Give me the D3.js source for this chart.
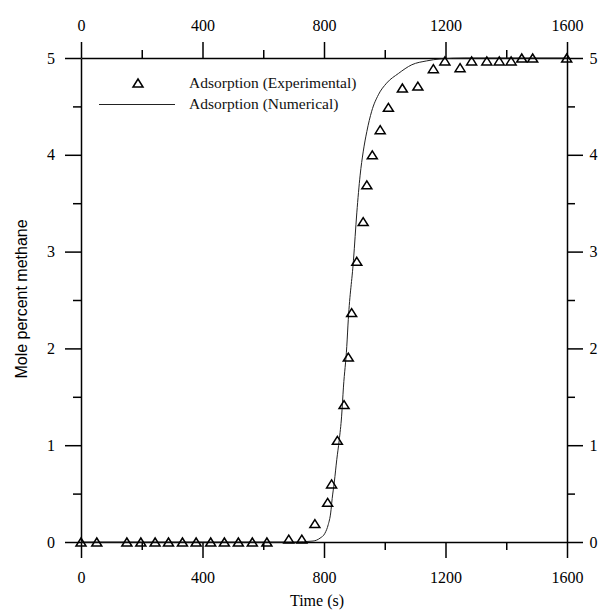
<!DOCTYPE html>
<html>
<head>
<meta charset="utf-8">
<script src="https://cdn.jsdelivr.net/npm/d3@7"></script>
<style>
  body { margin: 0; background: #fff; }
  svg { display: block; }
  .axis text { font-family: "Liberation Serif", "Times New Roman", serif; font-size: 16px; fill: #000; }
  .axis path, .axis line { stroke: #000; stroke-width: 1.5; }
</style>
</head>
<body>
<div id="wrapper"></div>
<script>
// experimental points
const expTime = [0, 52, 151, 197, 244, 288, 334, 379, 427, 472, 518, 564, 612, 684, 727,
  770, 812, 825, 844, 866, 880, 891, 908, 929, 941, 959, 985, 1012, 1058, 1109,
  1160, 1198, 1248, 1286, 1336, 1377, 1416, 1451, 1487, 1599]
const expValue = [0, 0, 0, 0, 0, 0, 0, 0, 0, 0, 0, 0, 0, 0.03, 0.03,
  0.19, 0.41, 0.6, 1.05, 1.42, 1.91, 2.37, 2.9, 3.31, 3.69, 4.0, 4.26, 4.49, 4.69, 4.71,
  4.89, 4.97, 4.9, 4.97, 4.97, 4.97, 4.97, 5.0, 5.0, 5.0]

// numerical curve
const numTime = [0, 200, 400, 600, 700, 764, 787, 803, 814, 822, 827, 834, 842, 850,
  858, 864, 875, 880, 897, 908, 919, 929, 941, 957, 979, 1006, 1045, 1089, 1138, 1182,
  1264, 1400, 1600]
const numValue = [0, 0, 0, 0, 0, 0.01, 0.04, 0.09, 0.18, 0.3, 0.45, 0.62, 0.85, 1.05,
  1.3, 1.6, 2.02, 2.3, 2.91, 3.4, 3.79, 4.03, 4.24, 4.45, 4.62, 4.74, 4.84, 4.93, 4.97, 4.99,
  5, 5, 5]

const xMajor = [0, 400, 800, 1200, 1600]
const xMinor = [200, 600, 1000, 1400]
const yMajor = [0, 1, 2, 3, 4, 5]
const yMinor = [0.5, 1.5, 2.5, 3.5, 4.5]

const legendLabels = ["Adsorption (Experimental)", "Adsorption (Numerical)"]

const expData = expTime.map((t, i) => ({ t, v: expValue[i] }))
const numData = numTime.map((t, i) => ({ t, v: numValue[i] }))

const width = 598
const height = 610

const svg = d3.select("#wrapper")
  .append("svg")
    .attr("width", width)
    .attr("height", height)

const xScale = d3.scaleLinear()
  .domain([0, 1600])
  .range([81, 567])

const yScale = d3.scaleLinear()
  .domain([0, 5])
  .range([542, 58])

// axes on all four sides, major + minor ticks pointing outward
function drawAxis(gen, transform, majors, minors, pad) {
  svg.append("g")
      .attr("class", "axis")
      .attr("transform", transform)
      .call(gen.tickValues(majors).tickSize(16).tickSizeOuter(0).tickPadding(pad).tickFormat(d3.format("d")))
  svg.append("g")
      .attr("class", "axis")
      .attr("transform", transform)
      .call(gen.tickValues(minors).tickSize(8).tickFormat(""))
      .call(g => g.select(".domain").remove())
}

drawAxis(d3.axisBottom(xScale), `translate(0,${yScale(0)})`, xMajor, xMinor, 14)
drawAxis(d3.axisTop(xScale), `translate(0,${yScale(5)})`, xMajor, xMinor, 11.5)
drawAxis(d3.axisLeft(yScale), `translate(${xScale(0)},0)`, yMajor, yMinor, 10)
drawAxis(d3.axisRight(yScale), `translate(${xScale(1600)},0)`, yMajor, yMinor, 6.5)

// numerical line
const line = d3.line()
  .x(d => xScale(d.t))
  .y(d => yScale(d.v))
  .curve(d3.curveMonotoneX)

svg.append("path")
    .datum(numData)
    .attr("d", line)
    .attr("fill", "none")
    .attr("stroke", "#222")
    .attr("stroke-width", 1)

// hollow triangles
const triangle = {
  draw(context) {
    context.moveTo(0, -4)
    context.lineTo(5, 4)
    context.lineTo(-5, 4)
    context.closePath()
  }
}
const symbol = d3.symbol().type(triangle)

svg.append("g")
  .selectAll("path")
  .data(expData)
  .join("path")
    .attr("d", symbol)
    .attr("transform", d => `translate(${xScale(d.t)},${yScale(d.v)})`)
    .attr("fill", "none")
    .attr("stroke", "#000")
    .attr("stroke-width", 1.5)

// legend
const legend = svg.append("g")
  .style("font-family", "'Liberation Serif', 'Times New Roman', serif")
  .style("font-size", "15.5px")

legend.append("path")
    .attr("d", symbol)
    .attr("transform", "translate(138,83)")
    .attr("fill", "none")
    .attr("stroke", "#000")
    .attr("stroke-width", 1.5)

legend.append("line")
    .attr("x1", 99).attr("x2", 175)
    .attr("y1", 104.5).attr("y2", 104.5)
    .attr("stroke", "#222")
    .attr("stroke-width", 1)

legend.selectAll("text")
  .data(legendLabels)
  .join("text")
    .attr("x", 189)
    .attr("y", (d, i) => 88 + i * 21)
    .attr("fill", "#111")
    .text(d => d)

// axis titles
svg.append("text")
    .attr("x", 317)
    .attr("y", 606)
    .attr("text-anchor", "middle")
    .style("font-family", "'Liberation Serif', 'Times New Roman', serif")
    .style("font-size", "16px")
    .text("Time (s)")

svg.append("text")
    .attr("transform", "translate(27,299) rotate(-90)")
    .attr("text-anchor", "middle")
    .style("font-family", "'Liberation Sans', Arial, sans-serif")
    .style("font-size", "16px")
    .text("Mole percent methane")
</script>
</body>
</html>
